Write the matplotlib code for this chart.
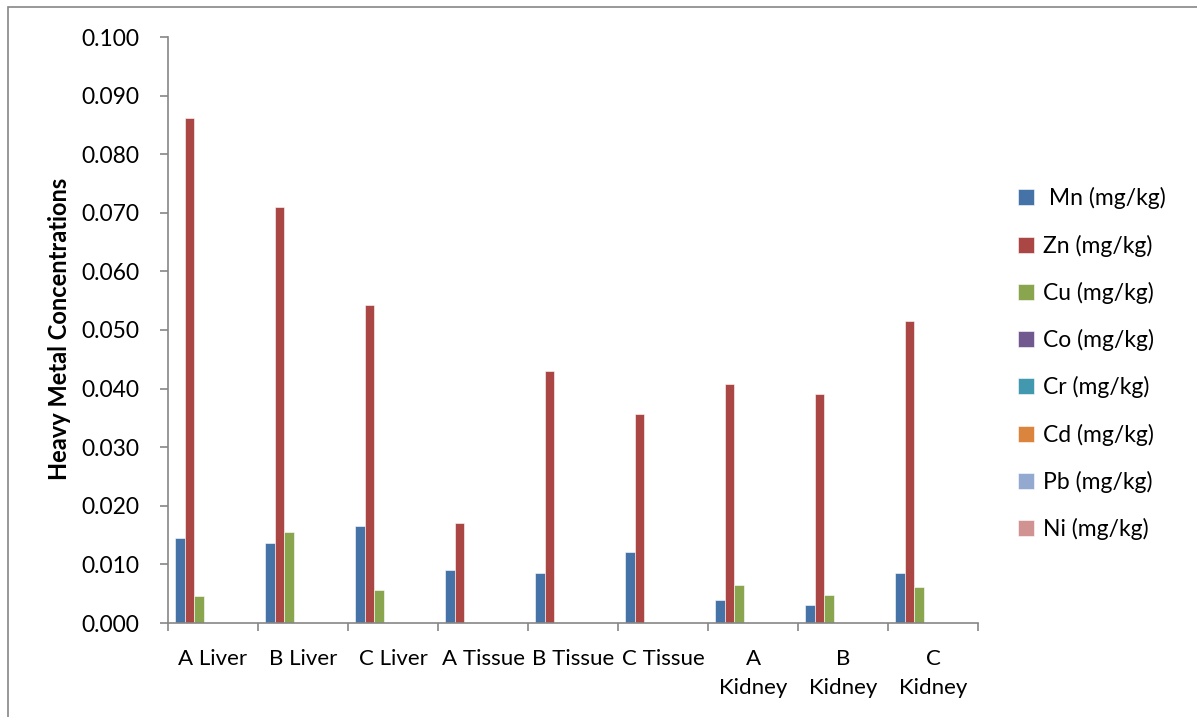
import numpy as np
import matplotlib.pyplot as plt
from matplotlib.patches import Rectangle
from matplotlib.ticker import FormatStrFormatter

# samples and metal concentrations (mg/kg)
samples = ['A Liver', 'B Liver', 'C Liver', 'A Tissue', 'B Tissue', 'C Tissue',
           'A\nKidney', 'B\nKidney', 'C\nKidney']
metals = [' Mn (mg/kg)', 'Zn (mg/kg)', 'Cu (mg/kg)', 'Co (mg/kg)',
          'Cr (mg/kg)', 'Cd (mg/kg)', 'Pb (mg/kg)', 'Ni (mg/kg)']

mn = [0.0145, 0.0136, 0.0166, 0.0090, 0.0086, 0.0121, 0.0040, 0.0031, 0.0086]
zn = [0.0862, 0.0710, 0.0542, 0.0170, 0.0430, 0.0357, 0.0407, 0.0391, 0.0515]
cu = [0.0046, 0.0156, 0.0056, 0.0, 0.0, 0.0, 0.0065, 0.0047, 0.0061]
co = [0.0] * 9
cr = [0.0] * 9
cd = [0.0] * 9
pb = [0.0] * 9
ni = [0.0] * 9
series = [mn, zn, cu, co, cr, cd, pb, ni]

colors = ['#4572A7', '#AA4643', '#89A54E', '#71588F',
          '#4198AF', '#DB843D', '#93A9CF', '#D19392']

plt.rcParams['font.family'] = ['Lato', 'DejaVu Sans']
axis_grey = '#868686'

fig = plt.figure(figsize=(11.97, 7.17), dpi=100)
ax = fig.add_axes([168/1197, 1 - 623/717, (978 - 168)/1197, (623 - 37)/717])

x = np.arange(len(samples))
w = 0.105
start = -len(series) * w / 2
for i, (vals, col, lab) in enumerate(zip(series, colors, metals)):
    ax.bar(x + start + (i + 0.5) * w, vals, width=w, color=col,
           edgecolor='white', linewidth=0.4, label=lab, zorder=2)

ax.set_xlim(-0.5, len(samples) - 0.5)
ax.set_ylim(0, 0.100)
ax.set_yticks(np.arange(0, 0.1001, 0.010))
ax.yaxis.set_major_formatter(FormatStrFormatter('%.3f'))

# category boundaries get the tick marks, centres carry the labels
ax.set_xticks(np.arange(-0.5, len(samples)), labels=[])
ax.set_xticks(x, labels=samples, minor=True)
ax.tick_params(axis='x', which='minor', length=0, pad=19, labelsize=16)
for t in ax.get_xticklabels(minor=True):
    t.set_linespacing(1.55)
ax.tick_params(axis='x', which='major', length=6, width=1.2, color=axis_grey)
ax.tick_params(axis='y', length=6, width=1.2, color=axis_grey, labelsize=16.5, pad=14.5)

for s in ['top', 'right']:
    ax.spines[s].set_visible(False)
for s in ['left', 'bottom']:
    ax.spines[s].set_color(axis_grey)
    ax.spines[s].set_linewidth(1.2)
    ax.spines[s].set_zorder(3)

ax.set_ylabel('Heavy Metal Concentrations', fontsize=17, fontweight='bold')
ax.yaxis.set_label_coords((71 - 168) / 810, 0.502)

fig.legend(loc='upper left', bbox_to_anchor=(1009/1197, 1 - 178/717),
           frameon=False, fontsize=16.5, handlelength=0.7, handleheight=0.7,
           handletextpad=0.4, labelspacing=1.1, borderaxespad=0)

# outer chart frame
fig.patches.append(Rectangle((8/1197, -0.05), 1.1, 1 - 7/717 + 0.05,
                             transform=fig.transFigure, fill=False,
                             edgecolor=axis_grey, linewidth=1.2))

fig.savefig('out.png', dpi=100)
